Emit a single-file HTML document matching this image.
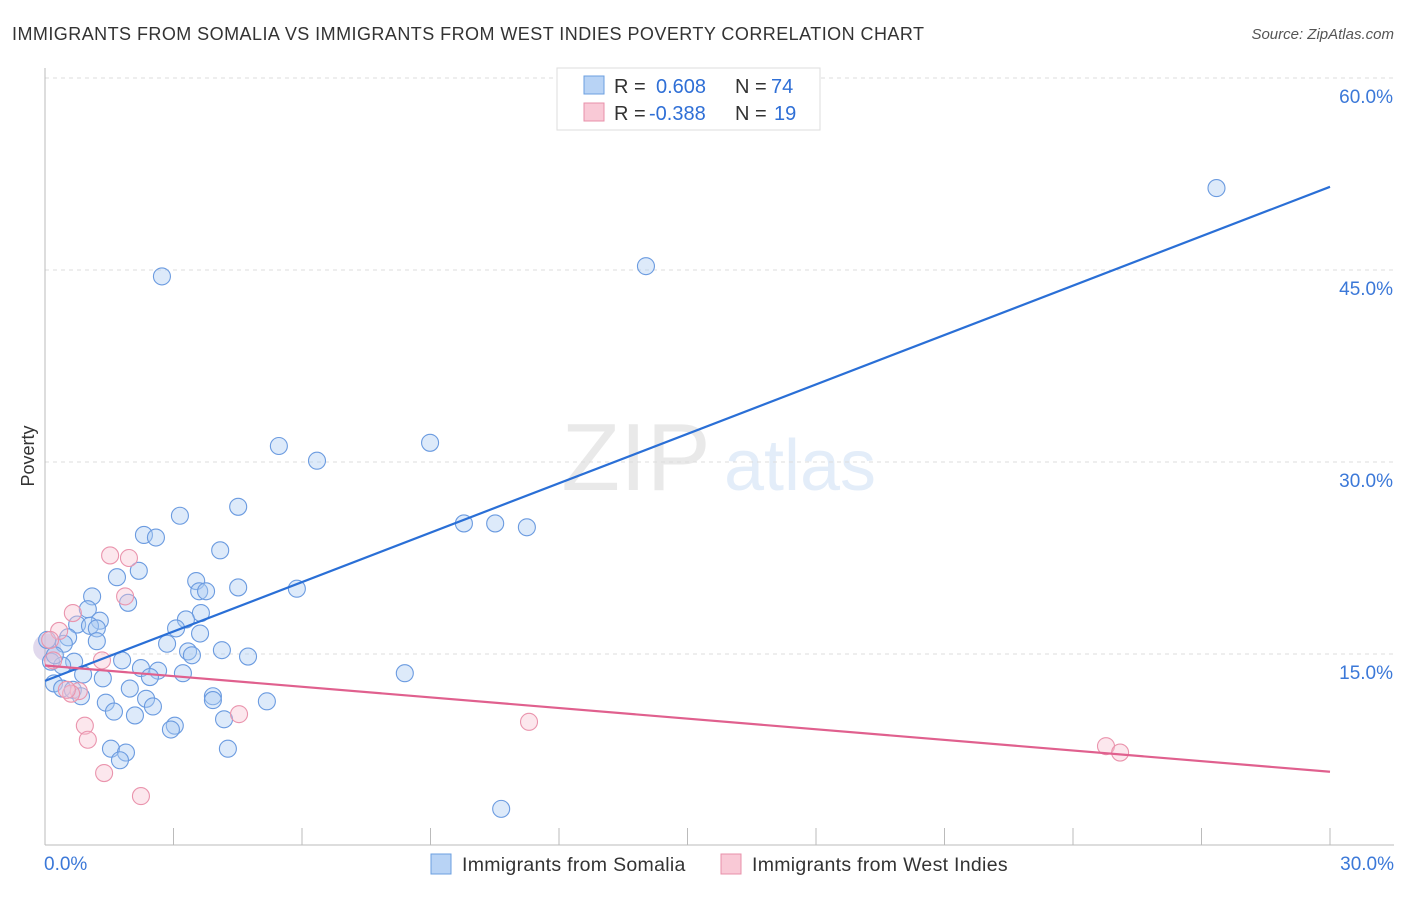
<!DOCTYPE html>
<html><head><meta charset="utf-8"><style>
body{margin:0;background:#fff;font-family:"Liberation Sans",sans-serif}
svg text{font-family:"Liberation Sans",sans-serif}
</style></head><body>
<svg width="1406" height="892" xmlns="http://www.w3.org/2000/svg">
<text x="12" y="40" font-size="18" fill="#333" letter-spacing="0.45">IMMIGRANTS FROM SOMALIA VS IMMIGRANTS FROM WEST INDIES POVERTY CORRELATION CHART</text>
<text x="1394" y="39" font-size="15" fill="#555" text-anchor="end" font-style="italic">Source: ZipAtlas.com</text>
<g opacity="0.18">
<text x="636" y="490" font-size="96" font-family="Liberation Serif" fill="#888" text-anchor="middle">ZIP</text>
<text x="800" y="490" font-size="72" fill="#6a9de0" text-anchor="middle">atlas</text>
</g>
<g id="grid"></g>
<g id="axes"></g>
<g id="marks"></g>
<text x="34" y="456" font-size="18" fill="#333" transform="rotate(-90 34 456)" text-anchor="middle">Poverty</text>
<g>
<rect x="557" y="68" width="263" height="62" fill="#fff" stroke="#ddd"/>
<rect x="584" y="76" width="20" height="18" fill="#b8d3f5" stroke="#6b9fe0"/>
<rect x="584" y="103" width="20" height="18" fill="#f9c9d6" stroke="#e890aa"/>
<text x="614" y="93" font-size="20" fill="#333">R = <tspan x="656" fill="#2f6fd6">0.608</tspan><tspan x="735" fill="#333">N = </tspan><tspan x="771" fill="#2f6fd6">74</tspan></text>
<text x="614" y="120" font-size="20" fill="#333">R = <tspan x="649" fill="#2f6fd6">-0.388</tspan><tspan x="735" fill="#333">N = </tspan><tspan x="774" fill="#2f6fd6">19</tspan></text>
</g>
<g>
<rect x="431" y="854" width="20" height="20" fill="#b8d3f5" stroke="#6b9fe0"/>
<text x="462" y="871" font-size="19.5" letter-spacing="0.3" fill="#333">Immigrants from Somalia</text>
<rect x="721" y="854" width="20" height="20" fill="#f9c9d6" stroke="#e890aa"/>
<text x="752" y="871" font-size="19.5" letter-spacing="0.3" fill="#333">Immigrants from West Indies</text>
</g>
</svg>
<script>
const yTicks=[15,30,45,60];
const yTickLabels=["15.0%","30.0%","45.0%","60.0%"];
const xTicks=[0,3,6,9,12,15,18,21,24,27,30];
const blueX=[27.35,14.03,2.73,5.46,6.35,8.99,4.51,3.15,9.78,10.51,11.25,2.31,2.59,4.09,2.19,1.68,3.53,4.51,5.88,3.60,3.76,1.10,1.94,1.00,3.64,3.29,1.28,0.75,1.05,1.21,3.06,3.62,0.54,1.21,0.44,2.85,4.13,3.34,3.43,4.74,1.80,0.68,0.14,0.40,2.24,2.64,8.40,3.22,0.89,2.45,1.35,0.21,0.40,1.98,0.65,0.84,3.92,3.92,2.36,5.18,1.42,2.52,1.61,2.10,4.18,3.03,2.94,1.54,1.89,4.27,1.75,10.65,0.05,0.23];
const blueY=[51.4,45.3,44.5,31.25,30.1,31.5,26.5,25.8,25.2,25.2,24.9,24.3,24.1,23.1,21.5,21.0,20.7,20.2,20.1,19.9,19.9,19.5,19.0,18.5,18.2,17.7,17.6,17.3,17.2,17.0,17.0,16.6,16.3,16.0,15.8,15.8,15.3,15.2,14.9,14.8,14.5,14.4,14.4,14.1,13.9,13.7,13.5,13.5,13.4,13.2,13.1,12.7,12.3,12.3,12.2,11.7,11.7,11.4,11.5,11.3,11.2,10.9,10.5,10.2,9.9,9.4,9.1,7.6,7.3,7.6,6.7,2.9,16.1,14.9];
const pinkX=[1.52,1.96,1.87,0.65,0.33,0.12,1.33,0.79,0.61,4.53,11.30,0.93,1.00,1.38,2.24,24.77,25.10,0.19,0.51];
const pinkY=[22.7,22.5,19.5,18.2,16.8,16.1,14.5,12.1,11.9,10.3,9.7,9.4,8.3,5.7,3.9,7.8,7.3,14.5,12.2];
const blueTrend=[12.9,51.5];
const pinkTrend=[14.1,5.8];
const NS="http://www.w3.org/2000/svg";
const sx=v=>45+v/30*1285;
const sy=v=>846-v/15*192;
function mk(t,a,p){const e=document.createElementNS(NS,t);for(const k in a)e.setAttribute(k,a[k]);p.appendChild(e);return e;}
const grid=document.getElementById('grid'),axes=document.getElementById('axes'),marks=document.getElementById('marks');
yTicks.forEach((v,i)=>{
 const l=mk('line',{x1:45,x2:1394,y1:sy(v),y2:sy(v),stroke:'#ddd','stroke-dasharray':'4,4'},grid);
 
 
 const t=mk('text',{x:1393,y:sy(v)+25,'font-size':19,fill:'#3b78d8','text-anchor':'end'},axes);
 t.textContent=yTickLabels[i];
 
 
});
mk('line',{x1:45,x2:45,y1:68,y2:845,stroke:'#bbb'},axes);
mk('line',{x1:45,x2:1394,y1:845,y2:845,stroke:'#bbb'},axes);
xTicks.forEach(v=>{const l=mk('line',{x1:sx(v),x2:sx(v),y1:828,y2:845,stroke:'#bbb'},axes);
 
 });
const xl0=mk('text',{x:44,y:870,'font-size':19,fill:'#3b78d8'},axes);xl0.textContent='0.0%';


const xl1=mk('text',{x:1394,y:870,'font-size':19,fill:'#3b78d8','text-anchor':'end'},axes);xl1.textContent='30.0%';


const big=mk('circle',{cx:sx(0.05),cy:sy(15.5),r:14,fill:'rgba(180,160,210,0.4)'},marks);


blueX.forEach((x,i)=>{const c=mk('circle',{cx:sx(x),cy:sy(blueY[i]),r:8.5,fill:'rgba(170,202,242,0.4)',stroke:'#6b9be0','stroke-width':1.1},marks);
 
 });
pinkX.forEach((x,i)=>{const c=mk('circle',{cx:sx(x),cy:sy(pinkY[i]),r:8.5,fill:'rgba(248,196,210,0.4)',stroke:'#ea94ad','stroke-width':1.1},marks);
 
 });
const bl=mk('line',{x1:sx(0),y1:sy(blueTrend[0]),x2:sx(30),y2:sy(blueTrend[1]),stroke:'#2a6fd6','stroke-width':2.2},marks);


const pl=mk('line',{x1:sx(0),y1:sy(pinkTrend[0]),x2:sx(30),y2:sy(pinkTrend[1]),stroke:'#e0608e','stroke-width':2.2},marks);


</script>
</body></html>
